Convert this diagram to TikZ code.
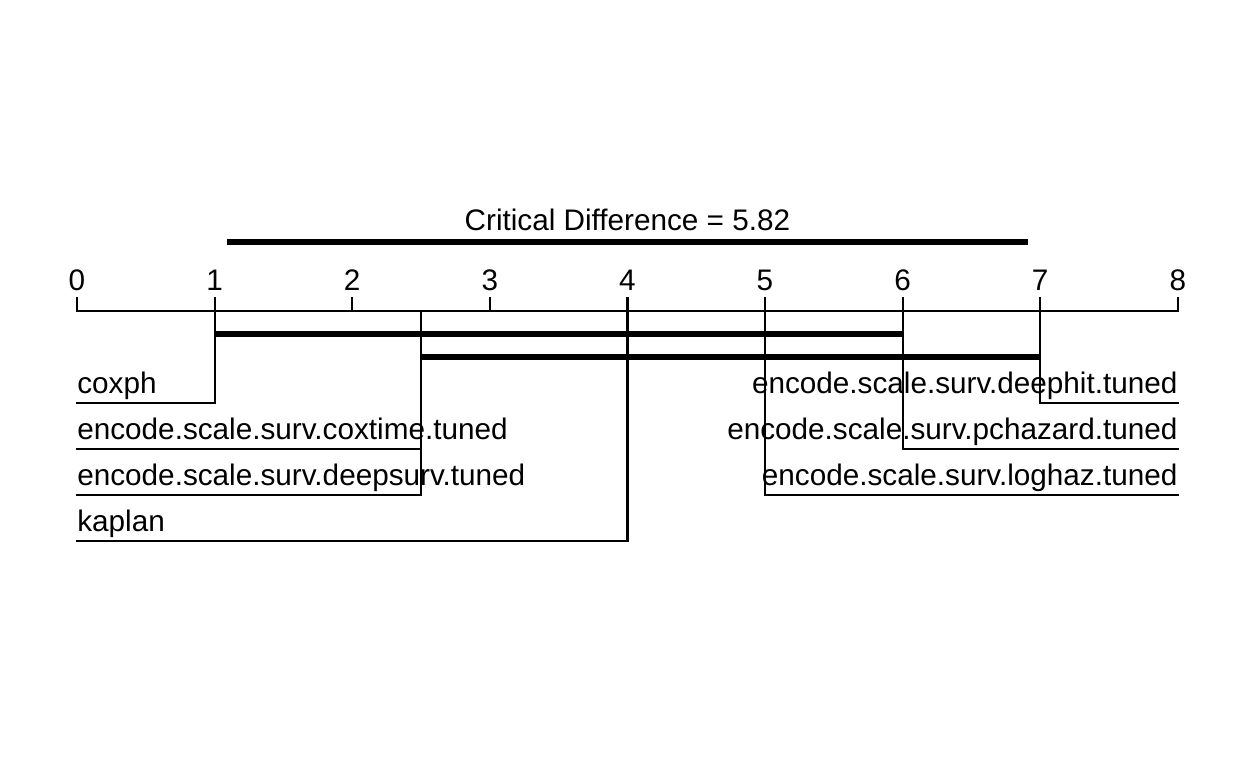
\documentclass[tikz,border=0pt]{standalone}
\usepackage{fontspec}
\setmainfont{Liberation Sans}
\usetikzlibrary{positioning}
\tikzset{
  thin line/.style={line width=1.25pt, line cap=rect}, % axis, ticks and method lines
  cd bar/.style={line width=3.1pt}, % critical difference and clique bars
  every node/.style={inner sep=0pt, font=\fontsize{16.9}{20}\selectfont},
}

\begin{document}
\begin{tikzpicture}[x=2.752cm,y=-0.02cm]% x in ranks, y in px
  \useasboundingbox (-0.5596,-311) rectangle (8.5102,457);
  % axis
  \foreach \i in {0,...,8} {
    \coordinate (t\i) at (\i,0);
    \draw[thin line] (t\i) -- ++(0,-13);
    \node[anchor=base] (n\i) at (\i,-21) {\i};
  }
  \draw[thin line] (t0) -- (t8);

  % critical difference
  \coordinate (cdl) at (1.09,-69);
  \coordinate (cdr) at (6.91,-69);
  \draw[cd bar] (cdl) -- (cdr);
  \node[anchor=base] (cd) at (4,-81) {Critical Difference = 5.82};

  % cliques
  \coordinate (c1l) at (1,23);
  \coordinate (c1r) at (6,23);
  \coordinate (c2l) at (2.5,46);
  \coordinate (c2r) at (7,46);
  \draw[cd bar] (c1l) -- (c1r);
  \draw[cd bar] (c2l) -- (c2r);

  % methods: name/rank/row/end/side/label
  \foreach \m/\r/\y/\e/\a/\txt in {
    m1/1/92/0/west/coxph,
    m2/2.5/138/0/west/encode.scale.surv.coxtime.tuned,
    m3/2.5/184/0/west/encode.scale.surv.deepsurv.tuned,
    m4/4/230/0/west/kaplan,
    m5/7/92/8/east/encode.scale.surv.deephit.tuned,
    m6/6/138/8/east/encode.scale.surv.pchazard.tuned,
    m7/5/184/8/east/encode.scale.surv.loghaz.tuned} {
    \coordinate (\m-top) at (\r,0);
    \coordinate (\m-end) at (\e,\y);
    \draw[thin line] (\m-top) |- (\m-end);
    \node[anchor=base \a] (\m) at (\e,\y-10) {\txt};
  }
\end{tikzpicture}
\end{document}
